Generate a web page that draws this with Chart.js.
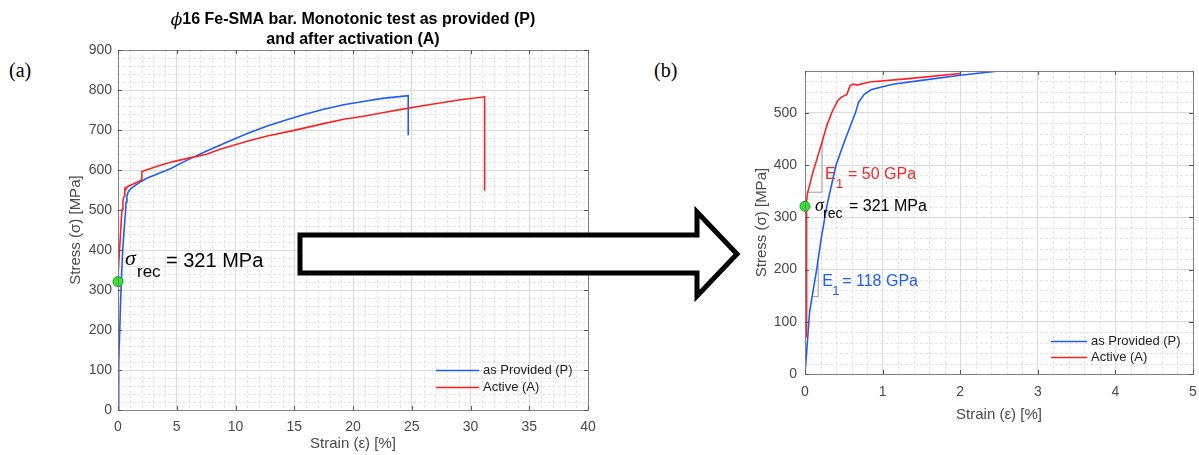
<!DOCTYPE html>
<html>
<head>
<meta charset="utf-8">
<script src="https://cdn.jsdelivr.net/npm/chart.js@4.4.0/dist/chart.umd.min.js"></script>
<style>
html,body{margin:0;padding:0;background:#fff;}
body{width:1199px;height:455px;position:relative;overflow:hidden;}
#wrapA{position:absolute;left:40px;top:0;width:560px;height:455px;}
#wrapB{position:absolute;left:740px;top:0;width:459px;height:455px;}
.tag{position:absolute;font-family:"Liberation Serif","Times New Roman",serif;font-size:20px;color:#000;line-height:24px;}
#arrow{position:absolute;left:0;top:0;}
</style>
</head>
<body>
<div class="tag" style="left:9px;top:58px">(a)</div>
<div class="tag" style="left:654px;top:58px">(b)</div>
<div id="wrapA"><canvas id="chartA" width="560" height="455"></canvas></div>
<div id="wrapB"><canvas id="chartB" width="459" height="455"></canvas></div>
<svg id="arrow" width="1199" height="455">
  <polygon points="300,235 697,235 697,212 737,254 697,296 697,273 300,273" fill="#fff" stroke="#000" stroke-width="5" stroke-linejoin="miter"/>
</svg>
<script>
const FAMILY = '"Liberation Sans", Arial, Helvetica, sans-serif';
Chart.defaults.font.family = FAMILY;

// as provided (P) — blue curve
const strainP = [0, 0.06, 0.15, 0.21, 0.28, 0.4, 0.52, 0.65, 0.69, 0.76, 0.85, 1.0, 1.15, 1.5, 2.0, 2.5, 3.5, 4.5, 5.5, 6.2, 7.5, 9.4, 11, 12.7, 14.5, 16, 17.5, 19.2, 21, 22.5, 24.7, 24.7];
const stressP = [0, 120, 200, 260, 321, 400, 450, 500, 520, 535, 544, 550, 555, 562, 572, 580, 592, 604, 619, 629, 647, 671, 691, 710, 727, 740, 752, 763, 772, 779, 786, 687];

// after activation (A) — red curve
const strainA = [0.02, 0.02, 0.03, 0.1, 0.22, 0.28, 0.35, 0.42, 0.47, 0.54, 0.58, 0.62, 0.67, 0.83, 1.3, 2.0, 2.03, 2.4, 3.6, 4.7, 6.2, 7.6, 8.5, 9.4, 11, 12.7, 14.5, 16, 17.5, 19.2, 21, 22.5, 24, 25.8, 27.5, 29, 31.2, 31.2];
const stressA = [70, 330, 345, 385, 444, 475, 502, 523, 530, 535, 552, 555, 553, 559, 565, 575, 596, 600, 612, 621, 631, 640, 650, 658, 672, 685, 696, 706, 716, 727, 735, 743, 751, 760, 768, 775, 783, 548];

// recovery stress point
const recStrain = [0];
const recStress = [321];

// slope triangles in the zoomed plot
const slopeAx = [0.02, 0.22, 0.22];
const slopeAy = [348, 348, 444];
const slopePx = [0.09, 0.17, 0.17];
const slopePy = [148, 148, 212];

const seriesNames = ['as Provided (P)', 'Active (A)'];
const seriesColors = ['#1f5cff', '#ff2222'];
const titleLines = ['16 Fe-SMA bar. Monotonic test as provided (P)', 'and after activation (A)'];
const xLabel = 'Strain (\u03b5) [%]';
const yLabel = 'Stress (\u03c3) [MPa]';

const pts = (xs, ys) => xs.map((x, i) => ({x, y: ys[i]}));

// MATLAB-ish look: minor dashed grid, box, inward ticks
const matlabBox = {
  id: 'matlabBox',
  beforeDatasetsDraw(chart, args, o) {
    const {ctx, chartArea: a, scales: {x, y}} = chart;
    ctx.save();
    ctx.strokeStyle = '#e3e3e3';
    ctx.lineWidth = 1;
    ctx.setLineDash([3, 2]);
    const nx = Math.round((x.max - x.min) / o.xMinor);
    for (let i = 1; i < nx; i++) {
      if (i % o.xSub === 0) continue;
      const px = Math.round(x.getPixelForValue(x.min + i * o.xMinor)) + 0.5;
      ctx.beginPath(); ctx.moveTo(px, a.top); ctx.lineTo(px, a.bottom); ctx.stroke();
    }
    const ny = Math.floor((y.max - y.min) / o.yMinor + 1e-6);
    for (let i = 1; i <= ny; i++) {
      if (i % o.ySub === 0) continue;
      const py = Math.round(y.getPixelForValue(y.min + i * o.yMinor)) + 0.5;
      if (py <= a.top + 1) continue;
      ctx.beginPath(); ctx.moveTo(a.left, py); ctx.lineTo(a.right, py); ctx.stroke();
    }
    ctx.restore();
  },
  afterDatasetsDraw(chart) {
    const {ctx, chartArea: a, scales: {x, y}} = chart;
    ctx.save();
    ctx.strokeStyle = '#808080';
    ctx.lineWidth = 1;
    ctx.strokeRect(Math.round(a.left) + 0.5, Math.round(a.top) + 0.5, Math.round(a.right - a.left), Math.round(a.bottom - a.top));
    ctx.strokeStyle = '#555';
    x.ticks.forEach(t => {
      const px = Math.round(x.getPixelForValue(t.value)) + 0.5;
      ctx.beginPath();
      ctx.moveTo(px, a.bottom); ctx.lineTo(px, a.bottom - 4);
      ctx.moveTo(px, a.top); ctx.lineTo(px, a.top + 4);
      ctx.stroke();
    });
    y.ticks.forEach(t => {
      const py = Math.round(y.getPixelForValue(t.value)) + 0.5;
      ctx.beginPath();
      ctx.moveTo(a.left, py); ctx.lineTo(a.left + 4, py);
      ctx.moveTo(a.right, py); ctx.lineTo(a.right - 4, py);
      ctx.stroke();
    });
    ctx.restore();
  }
};

// title, legend and text annotations
const annot = {
  id: 'annot',
  afterDraw(chart, args, o) {
    const {ctx, chartArea: a, scales: {x, y}} = chart;
    ctx.save();
    ctx.textBaseline = 'middle';
    if (o.title) {
      const cx = (a.left + a.right) / 2;
      const phiFont = 'italic 17px "DejaVu Serif", "Liberation Serif", serif';
      const bold = 'bold 16px ' + FAMILY;
      ctx.fillStyle = '#000';
      ctx.font = phiFont; const wPhi = ctx.measureText('\u03d5').width;
      ctx.font = bold; const w1 = ctx.measureText(titleLines[0]).width;
      let sx = cx - (wPhi + w1) / 2;
      ctx.font = phiFont; ctx.textAlign = 'left';
      ctx.fillText('\u03d5', sx, 21);
      ctx.font = bold;
      ctx.fillText(titleLines[0], sx + wPhi, 20);
      ctx.textAlign = 'center';
      ctx.fillText(titleLines[1], cx, 40);
    }
    const lg = o.legend;
    ctx.textAlign = 'left';
    ctx.font = '13px ' + FAMILY;
    seriesNames.forEach((name, i) => {
      const ly = Math.round(a.bottom - lg.dy[i]) + 0.5;
      ctx.strokeStyle = seriesColors[i];
      ctx.lineWidth = 1.5;
      ctx.beginPath(); ctx.moveTo(a.right - lg.x0, ly); ctx.lineTo(a.right - lg.x1, ly); ctx.stroke();
      ctx.fillStyle = '#222';
      ctx.fillText(name, a.right - lg.xt, ly);
    });
    o.texts.forEach(t => {
      const ax = x.getPixelForValue(t.at[0]);
      const ay = y.getPixelForValue(t.at[1]);
      ctx.font = t.font;
      ctx.fillStyle = t.color;
      ctx.fillText(t.text, ax + t.dx, ay + t.dy);
    });
    ctx.restore();
  }
};

function makeChart(id, o) {
  return new Chart(document.getElementById(id), {
    type: 'scatter',
    data: {
      datasets: [
        {data: pts(recStrain, recStress), pointRadius: o.dotR, backgroundColor: '#33e233', borderColor: '#1a9a1a', borderWidth: 1, clip: false, order: -1},
        {label: seriesNames[1], data: pts(strainA, stressA), showLine: true, borderColor: seriesColors[1], borderWidth: 1.6, pointRadius: 0, order: 0},
        {label: seriesNames[0], data: pts(strainP, stressP), showLine: true, borderColor: seriesColors[0], borderWidth: 1.6, pointRadius: 0, order: 1},
        ...o.extra
      ]
    },
    options: {
      responsive: false,
      animation: false,
      events: [],
      layout: {padding: o.pad},
      plugins: {
        legend: {display: false},
        tooltip: {enabled: false},
        matlabBox: o.grid,
        annot: {title: o.title, legend: o.legend, texts: o.texts}
      },
      scales: {
        x: {
          type: 'linear', min: o.xMin, max: o.xMax,
          ticks: {stepSize: o.xStep, color: '#4a4a4a', font: {size: 14}, padding: o.xTickPad, maxRotation: 0, autoSkip: false, includeBounds: false, callback: v => String(v)},
          grid: {color: '#dadada', drawTicks: false},
          border: {display: false},
          title: {display: true, text: xLabel, color: '#4a4a4a', font: {size: 15}, padding: {top: 0, bottom: o.xTitlePad}},
          afterFit: s => { s.height = o.xAxisH; s.paddingLeft = 0; s.paddingRight = 0; }
        },
        y: {
          type: 'linear', min: o.yMin, max: o.yMax,
          ticks: {stepSize: o.yStep, color: '#4a4a4a', font: {size: 14}, padding: o.yTickPad, autoSkip: false, includeBounds: false, callback: v => String(v)},
          grid: {color: '#dadada', drawTicks: false},
          border: {display: false},
          title: {display: true, text: yLabel, color: '#4a4a4a', font: {size: 15}, padding: {top: o.yTitlePad, bottom: 0}},
          afterFit: s => { s.width = o.yAxisW; s.paddingTop = 0; s.paddingBottom = 0; }
        }
      }
    },
    plugins: [matlabBox, annot]
  });
}

const sigma = '\u03c3';

makeChart('chartA', {
  xMin: 0, xMax: 40, xStep: 5, yMin: 0, yMax: 900, yStep: 100,
  pad: {left: 0, right: 12, top: 50, bottom: 0},
  xAxisH: 45, yAxisW: 78, xTickPad: 9, yTickPad: 6, xTitlePad: 2, yTitlePad: 27,
  grid: {xMinor: 1, xSub: 5, yMinor: 20, ySub: 5},
  dotR: 5, title: true, extra: [],
  legend: {x0: 152, x1: 109, xt: 105, dy: [40, 23]},
  texts: [
    {text: sigma, at: [recStrain[0], recStress[0]], dx: 7, dy: -22, font: 'italic 22px "Liberation Serif", serif', color: '#000'},
    {text: 'rec', at: [recStrain[0], recStress[0]], dx: 19, dy: -9, font: '17px ' + FAMILY, color: '#000'},
    {text: '= 321 MPa', at: [recStrain[0], recStress[0]], dx: 48, dy: -20, font: '20px ' + FAMILY, color: '#000'}
  ]
});

makeChart('chartB', {
  xMin: 0, xMax: 5, xStep: 1, yMin: 0, yMax: 580, yStep: 100,
  pad: {left: 0, right: 4, top: 71, bottom: 21},
  xAxisH: 60, yAxisW: 65, xTickPad: 10, yTickPad: 8, xTitlePad: 10, yTitlePad: 13,
  grid: {xMinor: 0.2, xSub: 5, yMinor: 20, ySub: 5},
  dotR: 5, title: false,
  extra: [
    {data: pts(slopeAx, slopeAy), showLine: true, borderColor: '#9a9a9a', borderWidth: 1, pointRadius: 0, order: 2},
    {data: pts(slopePx, slopePy), showLine: true, borderColor: '#9a9a9a', borderWidth: 1, pointRadius: 0, order: 2}
  ],
  legend: {x0: 142, x1: 106, xt: 102, dy: [33, 17]},
  texts: [
    {text: sigma, at: [recStrain[0], recStress[0]], dx: 10, dy: 0, font: 'italic 18px "Liberation Serif", serif', color: '#000'},
    {text: 'rec', at: [recStrain[0], recStress[0]], dx: 18, dy: 8, font: '14px ' + FAMILY, color: '#000'},
    {text: '= 321 MPa', at: [recStrain[0], recStress[0]], dx: 44, dy: 0, font: '16px ' + FAMILY, color: '#000'},
    {text: 'E', at: [slopeAx[1], slopeAy[1]], dx: 3, dy: -18, font: '16px ' + FAMILY, color: '#ff2222'},
    {text: '1', at: [slopeAx[1], slopeAy[1]], dx: 14, dy: -8, font: '13px ' + FAMILY, color: '#ff2222'},
    {text: '= 50 GPa', at: [slopeAx[1], slopeAy[1]], dx: 26, dy: -18, font: '16px ' + FAMILY, color: '#ff2222'},
    {text: 'E', at: [slopePx[1], slopePy[1]], dx: 4, dy: -15, font: '16px ' + FAMILY, color: '#1f5cff'},
    {text: '1', at: [slopePx[1], slopePy[1]], dx: 14, dy: -5, font: '13px ' + FAMILY, color: '#1f5cff'},
    {text: '= 118 GPa', at: [slopePx[1], slopePy[1]], dx: 24, dy: -15, font: '16px ' + FAMILY, color: '#1f5cff'}
  ]
});
</script>
</body>
</html>
